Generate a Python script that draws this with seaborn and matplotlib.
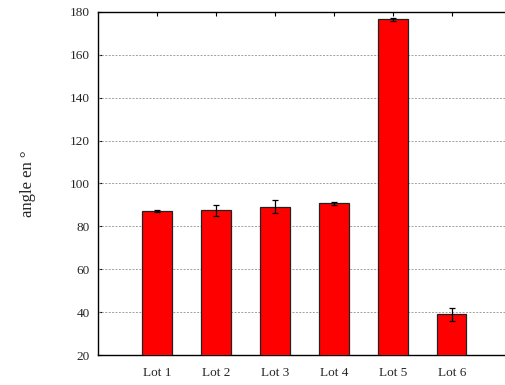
import matplotlib
matplotlib.use("Agg")
import matplotlib.pyplot as plt
import seaborn as sns
import numpy as np
import pandas as pd

# values
lots = ["Lot 1", "Lot 2", "Lot 3", "Lot 4", "Lot 5", "Lot 6"]
angles = [87.2, 87.5, 89.1, 90.7, 176.6, 38.9]
errors = [0.4, 2.6, 3.0, 0.8, 0.8, 3.2]
yticks = [20, 40, 60, 80, 100, 120, 140, 160, 180]

df = pd.DataFrame({"lot": lots, "angle": angles, "err": errors})

sns.set_style("white")
plt.rcParams["font.family"] = ["Liberation Serif", "DejaVu Serif"]

fig = plt.figure(figsize=(5.06, 3.85), dpi=100)
ax = fig.add_axes([98 / 506, 1 - 355 / 385, 1 - 98 / 506, (355 - 12) / 385])

sns.barplot(data=df, x="lot", y="angle", color="#ff0000", saturation=1,
            width=0.5, edgecolor="#222222", linewidth=0.9, ax=ax, zorder=3)
ax.errorbar(np.arange(len(lots)), df["angle"], yerr=df["err"], fmt="none",
            ecolor="black", elinewidth=0.9, capsize=2.5, capthick=0.9, zorder=4)

ax.set_ylim(20, 180)
ax.set_xlim(-1, 5.92)
ax.set_yticks(yticks)
ax.set_yticklabels([str(t) for t in yticks], fontsize=9.5)
ax.set_xticks(np.arange(len(lots)))
ax.set_xticklabels(lots, fontsize=9.5)
ax.set_xlabel("")
ax.set_ylabel("angle en °", fontsize=12, labelpad=24)

for t in yticks[1:-1]:
    ax.axhline(t, color="#a0a0a0", linestyle=(0, (2, 1.5)), linewidth=0.7, zorder=1)

ax.tick_params(axis="both", direction="in", length=3, width=0.8, color="black",
               top=True, right=False, left=True, bottom=True, pad=6)
ax.tick_params(axis="x", pad=9)
for side in ["left", "top", "bottom"]:
    ax.spines[side].set_visible(True)
    ax.spines[side].set_color("black")
    ax.spines[side].set_linewidth(1.0)
ax.spines["right"].set_visible(False)

fig.savefig("out.png", dpi=100)
